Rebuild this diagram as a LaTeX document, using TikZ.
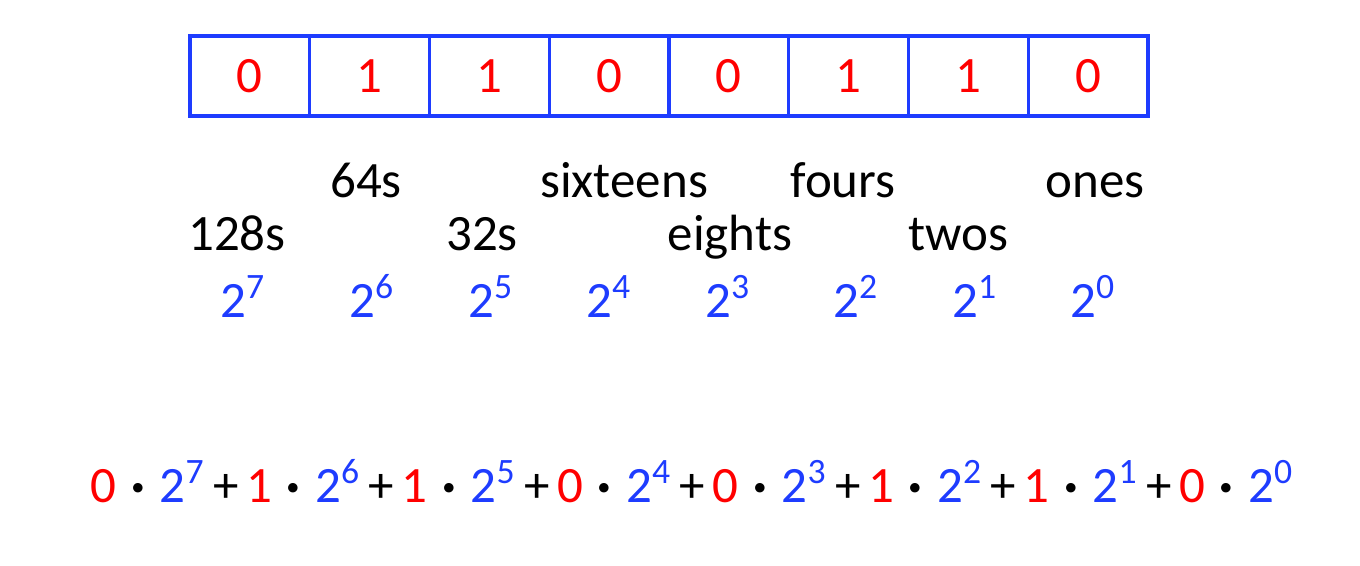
\documentclass[tikz,border=0pt]{standalone}
\usepackage{fontspec}
\setmainfont{Carlito}
\usetikzlibrary{positioning}

\definecolor{bitred}{RGB}{255,0,0}
\definecolor{powblue}{RGB}{30,60,255}
\newcommand{\bt}[1]{\textcolor{bitred}{#1}}
\newcommand{\pw}[1]{\textcolor{powblue}{2\textsuperscript{#1}}}
\newcommand{\tm}[2]{\bt{#1}\kern4.2pt{\bfseries ·}\kern4.2pt\pw{#2}}
\newcommand{\pl}{\kern2.2pt+\kern2.2pt}

\begin{document}
\begin{tikzpicture}[font=\fontsize{14.5}{17}\selectfont,
  cell/.style={draw=powblue, line width=0.9pt, minimum width=1.1975cm,
    minimum height=0.8cm, inner sep=0pt, text=bitred},
  lbl/.style={anchor=base},
  pow/.style={anchor=base, text=powblue}]
  \useasboundingbox (0,0) rectangle (13.6,-5.65);
  % the byte
  \foreach \b [count=\i from 0] in {0,1,1,0,0,1,1,0}
    \node[cell] (c\i) at ({2.4988+1.1975*\i},-0.76) {\b};
  % place names
  \node[lbl] (n64) at (3.66,-1.97) {64s};
  \node[lbl] (n16) at (6.24,-1.97) {sixteens};
  \node[lbl] (n4) at (8.43,-1.97) {fours};
  \node[lbl] (n1) at (10.95,-1.97) {ones};
  \node[lbl] (n128) at (2.37,-2.50) {128s};
  \node[lbl] (n32) at (4.82,-2.50) {32s};
  \node[lbl] (n8) at (7.30,-2.50) {eights};
  \node[lbl] (n2) at (9.58,-2.50) {twos};
  % powers of two
  \foreach \e/\x in {7/2.43,6/3.72,5/4.91,4/6.09,3/7.28,2/8.56,1/9.75,0/10.93}
    \node[pow] (p\e) at (\x,-3.17) {2\textsuperscript{\e}};
  % the sum
  \node[lbl, anchor=base west, inner sep=0pt] (sum) at (0.90,-5.02)
    {\tm{0}{7}\pl\tm{1}{6}\pl\tm{1}{5}\pl\tm{0}{4}\pl
     \tm{0}{3}\pl\tm{1}{2}\pl\tm{1}{1}\pl\tm{0}{0}};
\end{tikzpicture}
\end{document}
